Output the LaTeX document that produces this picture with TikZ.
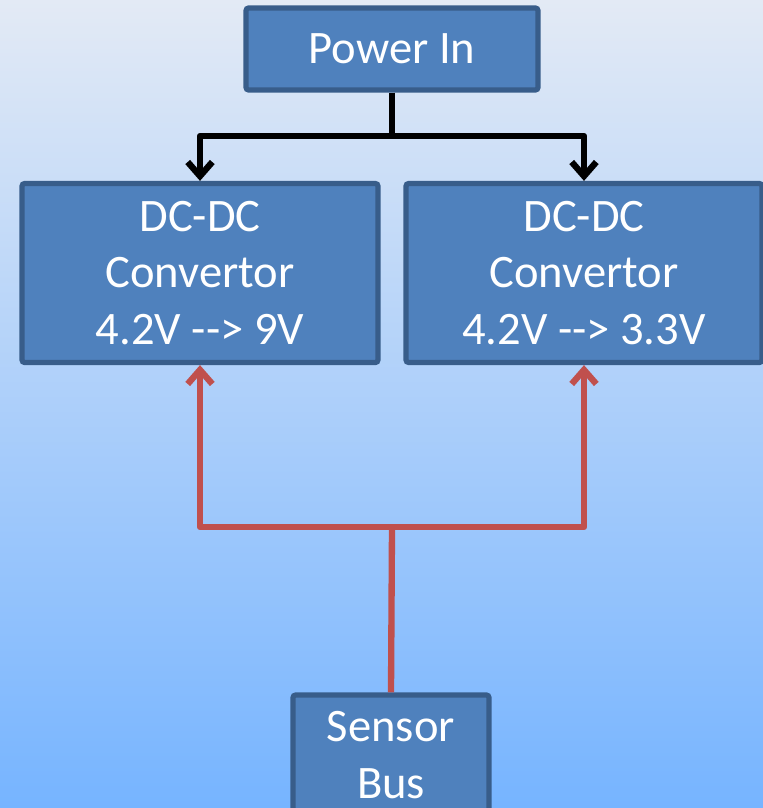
\documentclass[tikz,border=0pt]{standalone}
\usepackage{fontspec}
\setmainfont{Carlito}
\usepackage{tikz}
\usetikzlibrary{positioning,calc,arrows.meta}
\usepackage{xcolor}
\definecolor{boxfill}{HTML}{4F81BD}
\definecolor{boxedge}{HTML}{385D8A}
\definecolor{redline}{HTML}{C0504D}
\definecolor{bgtop}{HTML}{E3EAF5}
\definecolor{bgmid}{HTML}{A0C8F4}
\definecolor{bgbot}{HTML}{76B4FF}

\begin{document}
\begin{tikzpicture}[x=0.02cm,y=-0.02cm,
    blk/.style={rectangle,rounded corners=1.5pt,draw=boxedge,line width=3pt,fill=boxfill,
      text=white,align=center,font=\fontsize{26.5}{32.4}\selectfont},
    pwrline/.style={line width=3.6pt,black,line join=round},
    busline/.style={line width=3.6pt,redline,line join=round},
    tip/.style={-{Straight Barb[length=8pt,width=14pt,line width=3.6pt]}}]

% background
\useasboundingbox (0,0) rectangle (763,808);
\shade[top color=bgtop,middle color=bgmid,bottom color=bgbot] (0,0) rectangle (763,808);

\node[blk,minimum width=5.84cm,minimum height=1.64cm] (pwr) at (392,49) {Power In};
\node[blk,minimum width=7.12cm,minimum height=3.58cm] (dcl) at (200,273) {DC-DC\\Convertor\\4.2V -{}-{}> 9V};
\node[blk,minimum width=7.12cm,minimum height=3.58cm] (dcr) at (584,273) {DC-DC\\Convertor\\4.2V -{}-{}> 3.3V};
\node[blk,minimum width=3.92cm,minimum height=2.4cm] (bus) at (391,755) {Sensor\\Bus};

\coordinate (split) at (392,136);
\coordinate (join) at (392,527);

% power feed
\draw[pwrline] (pwr.south) -- (split);
\draw[pwrline,tip] (split) -| (dcl.north);
\draw[pwrline,tip] (split) -| (dcr.north);

% sensor bus
\draw[busline] (bus.north) -- (join);
\draw[busline,tip] (join) -| (dcl.south);
\draw[busline,tip] (join) -| (dcr.south);

\end{tikzpicture}
\end{document}
